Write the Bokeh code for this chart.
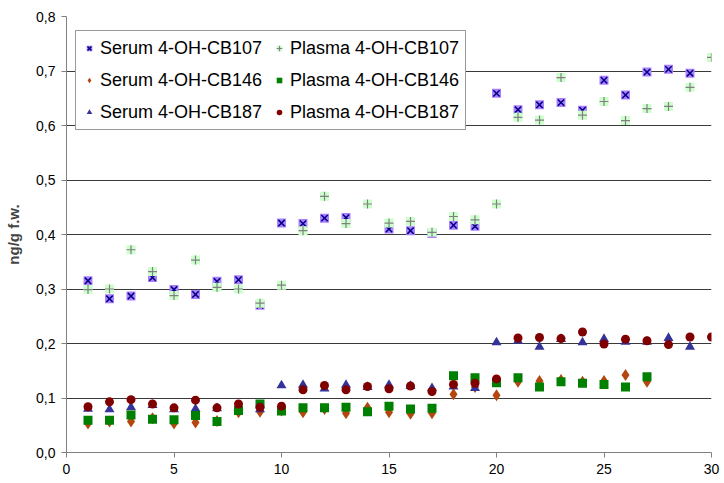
from bokeh.plotting import figure
from bokeh.models import (Legend, LegendItem, Range1d, FixedTicker,
                          CustomJSTickFormatter)
from bokeh.embed import file_html
from bokeh.resources import INLINE

# ---- data ----
serum_107_x = list(range(1, 14)) + list(range(15, 30))
serum_107 = [0.315, 0.282, 0.287, 0.321, 0.299, 0.290, 0.314, 0.317, 0.270, 0.421,
             0.420, 0.430, 0.431, 0.410, 0.407, 0.402, 0.417, 0.415,
             0.659, 0.629, 0.638, 0.642, 0.628, 0.683, 0.656, 0.698, 0.703, 0.696]

plasma_107_x = list(range(1, 31))
plasma_107 = [0.299, 0.300, 0.372, 0.332, 0.288, 0.353, 0.303, 0.300, 0.274, 0.307,
              0.407, 0.470, 0.420, 0.456, 0.421, 0.424, 0.404, 0.433, 0.427, 0.456,
              0.615, 0.610, 0.688, 0.619, 0.644, 0.609, 0.631, 0.635, 0.670, 0.725]

serum_146_x = list(range(1, 28))
serum_146 = [0.053, 0.057, 0.057, 0.063, 0.053, 0.055, 0.058, 0.074, 0.075, 0.077,
             0.074, 0.080, 0.072, 0.082, 0.074, 0.071, 0.072, 0.107, 0.120, 0.105,
             0.130, 0.131, 0.133, 0.130, 0.131, 0.142, 0.130]

plasma_146_x = list(range(1, 28))
plasma_146 = [0.059, 0.059, 0.069, 0.061, 0.060, 0.068, 0.057, 0.077, 0.089, 0.076,
              0.082, 0.082, 0.083, 0.075, 0.085, 0.080, 0.081, 0.141, 0.137, 0.128,
              0.137, 0.120, 0.130, 0.127, 0.125, 0.120, 0.139]

serum_187_x = list(range(1, 30))
serum_187 = [0.080, 0.079, 0.083, 0.087, 0.079, 0.080, 0.081, 0.083, 0.079, 0.123,
             0.124, 0.117, 0.124, 0.120, 0.124, 0.122, 0.118, 0.121, 0.118, 0.202,
             0.205, 0.194, 0.208, 0.202, 0.208, 0.203, 0.203, 0.210, 0.194]

plasma_187_x = list(range(1, 31))
plasma_187 = [0.084, 0.093, 0.097, 0.089, 0.082, 0.096, 0.082, 0.089, 0.083, 0.085,
              0.115, 0.123, 0.115, 0.121, 0.117, 0.122, 0.112, 0.125, 0.127, 0.135,
              0.210, 0.211, 0.209, 0.221, 0.199, 0.208, 0.205, 0.198, 0.212, 0.212]

labels = ["Serum 4-OH-CB107", "Plasma 4-OH-CB107",
          "Serum 4-OH-CB146", "Plasma 4-OH-CB146",
          "Serum 4-OH-CB187", "Plasma 4-OH-CB187"]
x_ticks = [0, 5, 10, 15, 20, 25, 30]
y_ticks = [0.0, 0.1, 0.2, 0.3, 0.4, 0.5, 0.6, 0.7, 0.8]

FONT = "Liberation Sans"

p = figure(width=721, height=477, output_backend="svg", toolbar_location=None,
           x_range=Range1d(0, 30), y_range=Range1d(0, 0.8),
           min_border_left=66, min_border_right=10, min_border_top=16,
           min_border_bottom=25)
p.outline_line_color = None
p.background_fill_color = "white"
p.border_fill_color = "white"

p.xgrid.grid_line_color = None
p.ygrid.grid_line_color = "#3a3a3a"
p.ygrid.ticker = FixedTicker(ticks=y_ticks)

for ax in (p.xaxis[0], p.yaxis[0]):
    ax.axis_line_color = "#808080"
    ax.major_tick_line_color = "#808080"
    ax.minor_tick_line_color = None
    ax.major_tick_in = 0
    ax.major_tick_out = 5
    ax.major_label_text_font = FONT
    ax.major_label_text_font_size = "14px"
    ax.major_label_text_color = "black"

p.xaxis.ticker = FixedTicker(ticks=x_ticks)
p.yaxis.ticker = FixedTicker(ticks=y_ticks)
p.yaxis.formatter = CustomJSTickFormatter(code="return tick.toFixed(1).replace('.', ',');")
p.yaxis.axis_label = "ng/g f.w."
p.yaxis.axis_label_text_font = FONT
p.yaxis.axis_label_text_font_size = "15px"
p.yaxis.axis_label_text_font_style = "bold"
p.yaxis.axis_label_standoff = 11
p.xaxis.major_label_standoff = 6
p.yaxis.major_label_standoff = 6

# series
r1a = p.scatter(serum_107_x, serum_107, marker="square", size=9,
                fill_color="#aa80ff", line_color=None)
r1b = p.scatter(serum_107_x, serum_107, marker="x", size=9,
                line_color="#000080", line_width=1.5)
r3 = p.scatter(serum_146_x, serum_146, marker="diamond", size=12,
               fill_color="#b5460f", line_color=None)
r5 = p.scatter(serum_187_x, serum_187, marker="triangle", size=10,
               fill_color="#333399", line_color=None)
r2a = p.scatter(plasma_107_x, plasma_107, marker="square", size=9,
                fill_color="#ccffcc", line_color=None)
r2b = p.scatter(plasma_107_x, plasma_107, marker="cross", size=9,
                line_color="#808080", line_width=1.2)
r4 = p.scatter(plasma_146_x, plasma_146, marker="square", size=9,
               fill_color="#008000", line_color=None)
r6 = p.scatter(plasma_187_x, plasma_187, marker="circle", size=9,
               fill_color="#800000", line_color=None)

items = [
    LegendItem(label=labels[0], renderers=[r1a, r1b]),
    LegendItem(label=labels[2], renderers=[r3]),
    LegendItem(label=labels[4], renderers=[r5]),
    LegendItem(label=labels[1], renderers=[r2a, r2b]),
    LegendItem(label=labels[3], renderers=[r4]),
    LegendItem(label=labels[5], renderers=[r6]),
]
legend = Legend(items=items, ncols=2, location=(9, 322),
                label_text_font=FONT, label_text_font_size="18px",
                label_text_color="black",
                glyph_width=14, glyph_height=22, label_height=22,
                label_standoff=4, spacing=10, padding=6, margin=0,
                border_line_color="#333333", border_line_width=1,
                background_fill_color="white", background_fill_alpha=1)
p.add_layout(legend, "center")

open("out.html", "w").write(file_html(p, INLINE))
